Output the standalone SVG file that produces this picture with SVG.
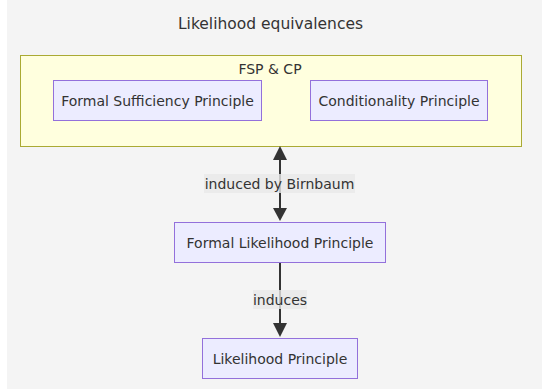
<svg xmlns="http://www.w3.org/2000/svg" width="542" height="389" viewBox="0 0 542 389">
<style>
text{font-family:"DejaVu Sans","Noto Sans",sans-serif;font-size:14px;fill:#333;text-anchor:middle;dominant-baseline:central}
.node rect{fill:#ECECFF;stroke:#9370DB;stroke-width:1}
.cluster rect{fill:#ffffde;stroke:#aaaa33;stroke-width:1}
.edge{stroke:#333;stroke-width:2;fill:none}
.lbl{fill:#e8e8e8;opacity:0.8}
.head{fill:#333}
</style>
<rect x="0" y="0" width="542" height="389" fill="#ffffff"/>
<rect x="7" y="0" width="535" height="389" fill="#f4f4f4"/>
<text x="270.5" y="24" style="font-size:15.5px">Likelihood equivalences</text>
<g id="cluster_fspcp" class="cluster">
<rect x="20.5" y="55.5" width="501" height="91"/>
<text x="270" y="69">FSP &amp; CP</text>
</g>
<g id="connectors">
<line class="edge" x1="280" y1="156" x2="280" y2="212"/>
<path class="head" d="M273,160 L280,146 L287,160 z"/>
<path class="head" d="M273,208 L280,221 L287,208 z"/>
<rect class="lbl" x="204" y="174" width="151" height="19"/>
<text x="279.5" y="184">induced by Birnbaum</text>
<line class="edge" x1="280" y1="263" x2="280" y2="328"/>
<path class="head" d="M273,323 L280,337 L287,323 z"/>
<rect class="lbl" x="253" y="290" width="54" height="19"/>
<text x="280" y="300">induces</text>
</g>
<g id="node_fsp" class="node">
<rect x="53.5" y="80.5" width="208" height="40"/>
<text x="157.5" y="101">Formal Sufficiency Principle</text>
</g>
<g id="node_cp" class="node">
<rect x="310.5" y="80.5" width="177" height="40"/>
<text x="399" y="101">Conditionality Principle</text>
</g>
<g id="node_flp" class="node">
<rect x="174.5" y="222.5" width="211" height="40"/>
<text x="280" y="243">Formal Likelihood Principle</text>
</g>
<g id="node_lp" class="node">
<rect x="202.5" y="338.5" width="155" height="40"/>
<text x="280" y="359">Likelihood Principle</text>
</g>
</svg>
